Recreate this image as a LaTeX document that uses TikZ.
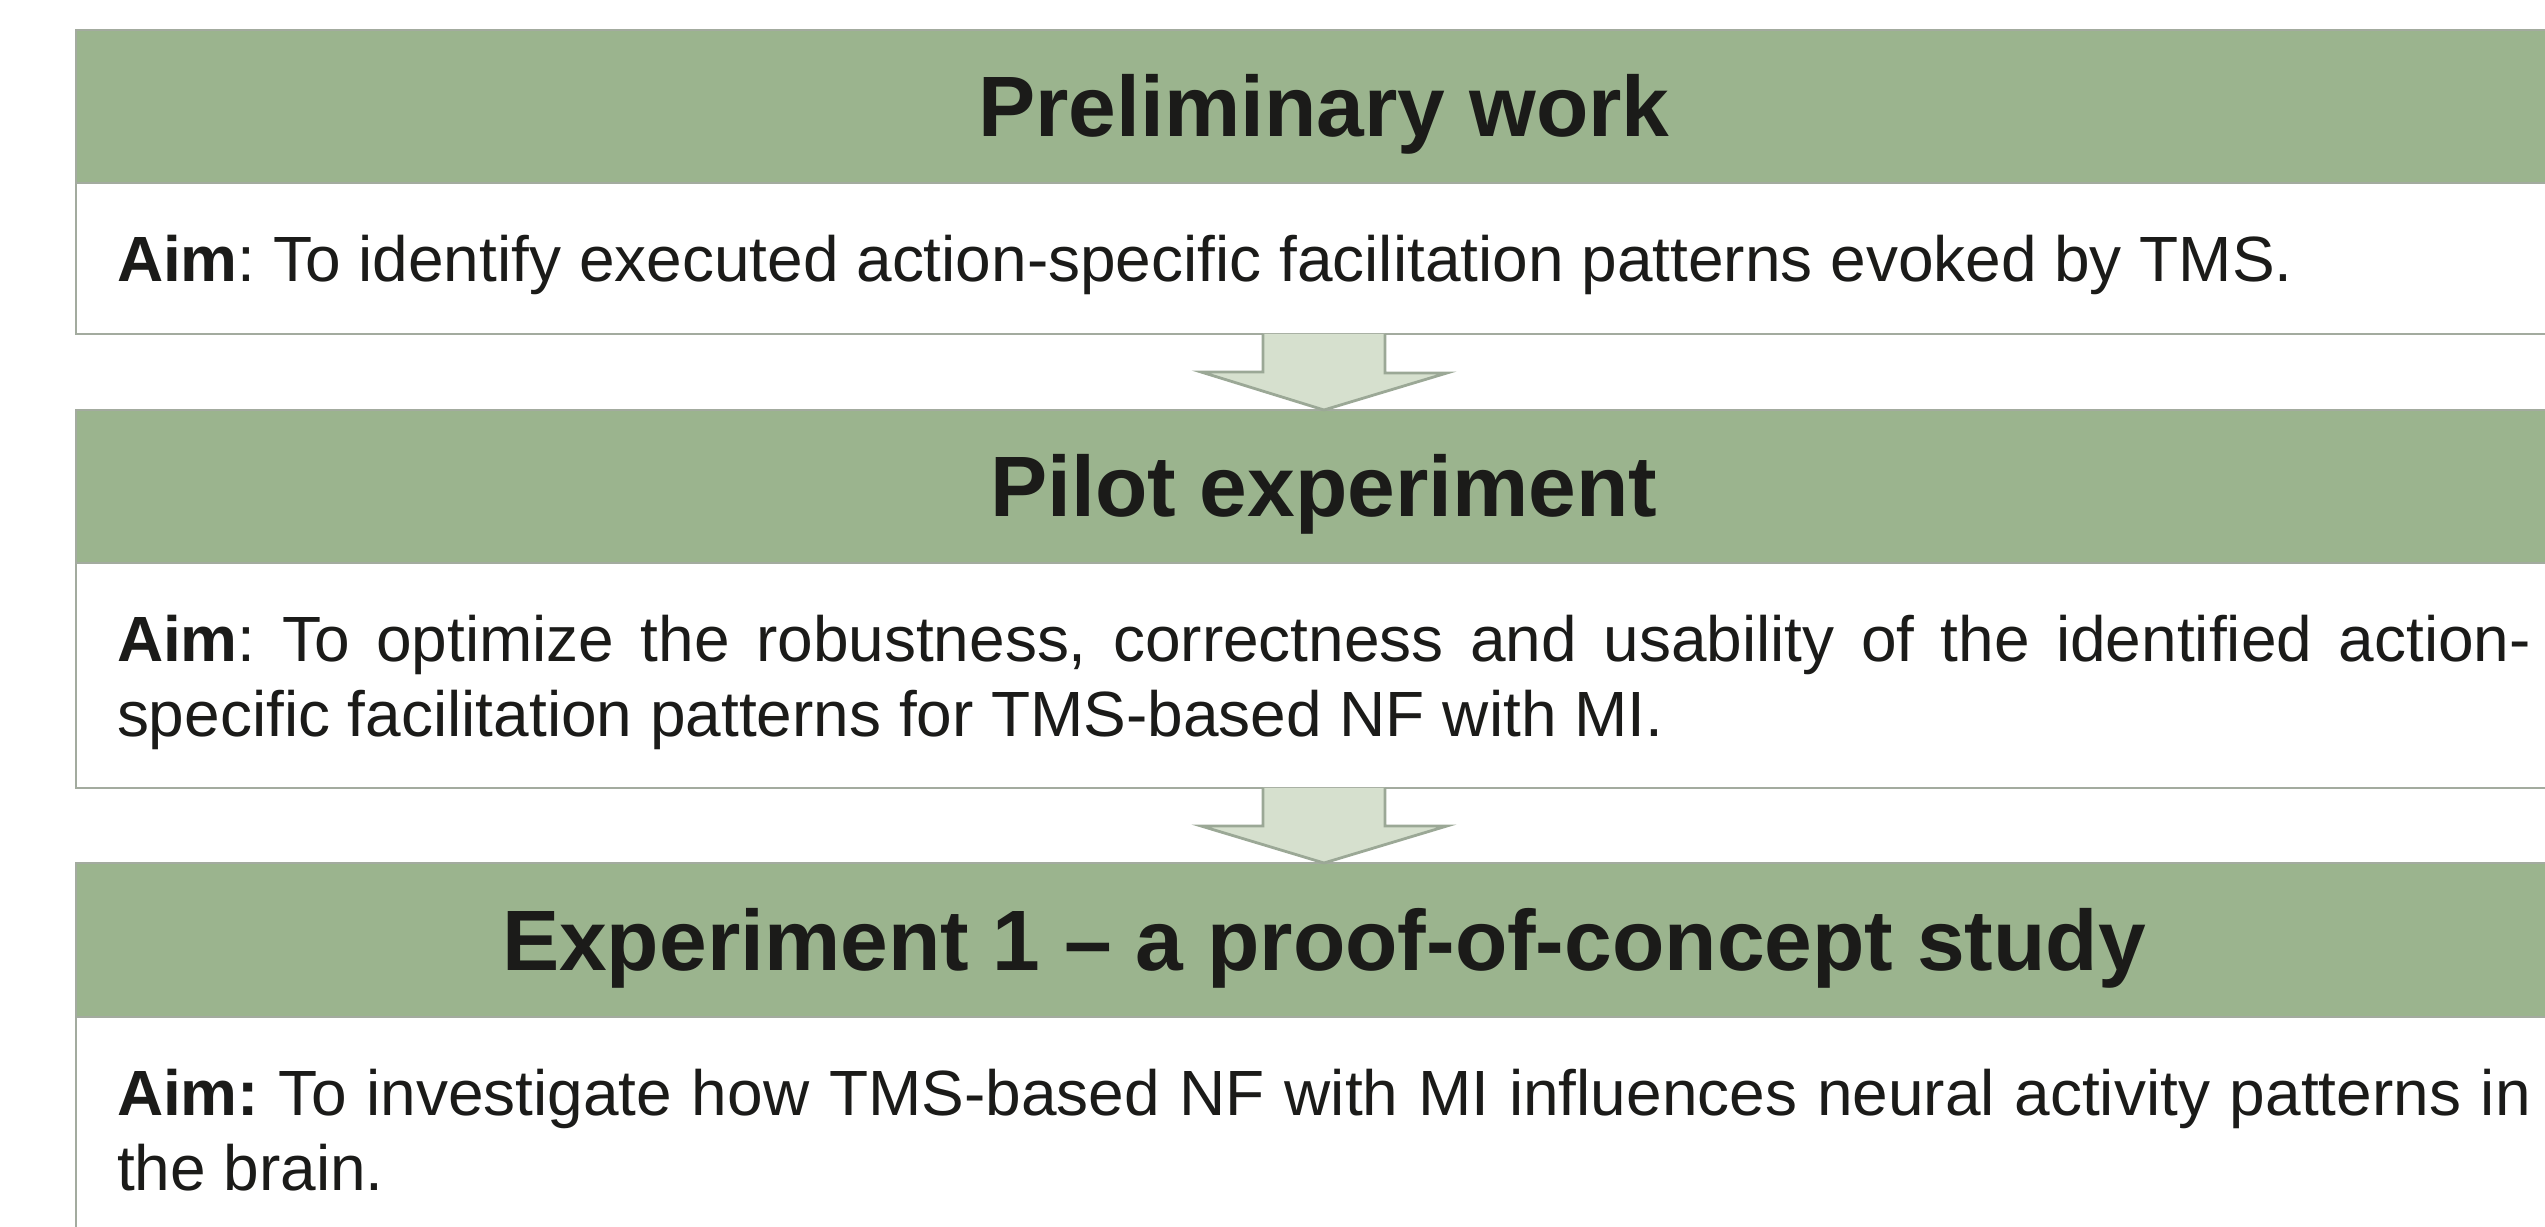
\documentclass[tikz,border=0pt]{standalone}
\usepackage{fontspec}
\setmainfont{Liberation Sans}
\usetikzlibrary{positioning}
\definecolor{headgreen}{RGB}{155,180,142}
\definecolor{boxgray}{RGB}{163,171,159}
\definecolor{arrowfill}{RGB}{214,224,206}
\definecolor{arrowline}{RGB}{155,168,150}
\definecolor{inkblack}{RGB}{27,27,25}
\hyphenpenalty=10000
\frenchspacing

\begin{document}
\begin{tikzpicture}[x=0.1mm, y=-0.1mm, text=inkblack,
  headbox/.style={draw=boxgray, line width=0.28mm, fill=headgreen, outer sep=0pt,
    minimum width=249.6mm, minimum height=15.3mm, text height=6.1mm, text depth=0pt,
    font=\fontsize{24.4pt}{29pt}\selectfont\bfseries},
  bodybox/.style={draw=boxgray, line width=0.28mm, fill=white, outer sep=0pt,
    text width=241.4mm, inner xsep=4.1mm, align=justify,
    font=\fontsize{18.2pt}{21.4pt}\selectfont},
  oneline/.style={text depth=0pt},
  twoline/.style={text depth=21.4pt},
  flowarrow/.style={draw=arrowline, line width=0.28mm, fill=arrowfill, line join=miter}]
\useasboundingbox (0,0) rectangle (2545,1227);

\node[headbox, anchor=north west] (h1) at (76,30) {Preliminary work};
\node[bodybox, oneline, minimum height=15.1mm, below=0pt of h1] (b1) {\textbf{Aim}: To identify executed action-specific facilitation patterns evoked by TMS.};

\node[headbox, below=7.6mm of b1] (h2) {Pilot experiment};
\node[bodybox, twoline, minimum height=22.5mm, below=0pt of h2] (b2) {\textbf{Aim}: To optimize the robustness, correctness and usability of the identified action-\linebreak specific facilitation patterns for TMS-based NF with MI.};

\node[headbox, minimum height=15.4mm, below=7.5mm of b2] (h3) {Experiment 1 -- a proof-of-concept study};
\node[bodybox, twoline, minimum height=22.6mm, below=0pt of h3] (b3) {\textbf{Aim:} To investigate how TMS-based NF with MI influences neural activity patterns in the brain.};

% block arrows between the stages
\draw[flowarrow] ([xshift=-6.1mm]b1.south) -- ++(0,38) -- ++(-62,0) -- (h2.north)
  -- ++(123,-37) -- ++(-62,0) -- ([xshift=6.1mm]b1.south);
\draw[flowarrow] ([xshift=-6.1mm]b2.south) -- ++(0,38) -- ++(-62,0) -- (h3.north)
  -- ++(123,-37) -- ++(-62,0) -- ([xshift=6.1mm]b2.south);
\end{tikzpicture}
\end{document}
